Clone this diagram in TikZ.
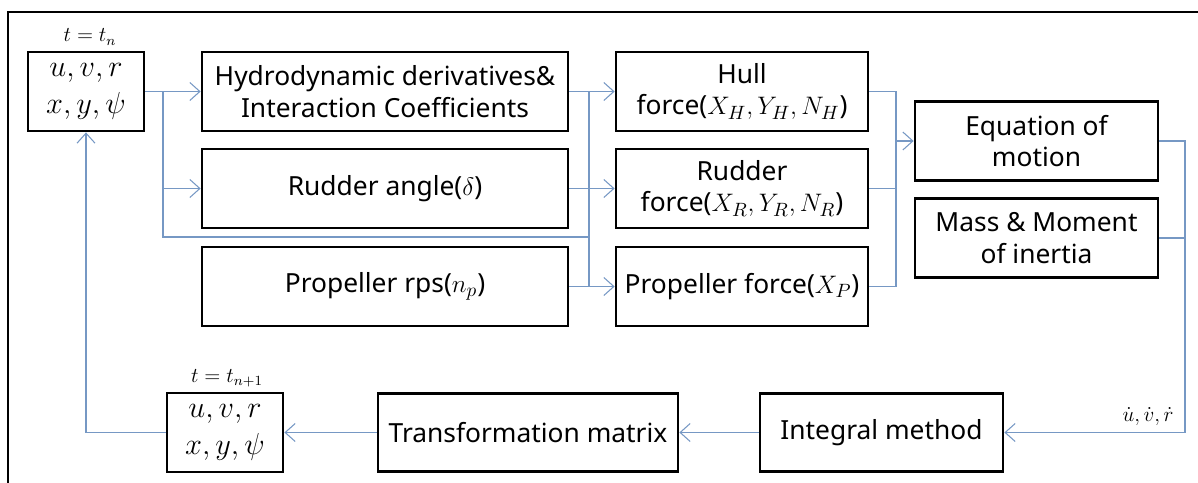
\documentclass[tikz,border=0pt]{standalone}
\usepackage[no-math]{fontspec}
\setmainfont{Noto Sans}
\usetikzlibrary{arrows.meta, positioning}
\definecolor{linkblue}{RGB}{118,152,196}
\tikzset{
    block/.style={rectangle, draw, line width=1.6pt, text centered, align=center, inner sep=0pt, font=\fontsize{15}{18}\selectfont},
    state/.style={block, minimum width=2.32cm, minimum height=1.58cm, font=\fontsize{18}{21}\selectfont},
    wide/.style={block, minimum width=7.32cm, minimum height=1.58cm},
    force/.style={block, minimum width=5.04cm, minimum height=1.58cm},
    solver/.style={block, minimum width=4.86cm, minimum height=1.57cm},
    stamp/.style={font=\fontsize{12}{14}\selectfont},
    link/.style={draw=linkblue, line width=0.6pt},
    flow/.style={link, -{Straight Barb[length=2mm, width=3.6mm]}}
}
\begin{document}
\begin{tikzpicture}[x=0.02cm, y=-0.02cm]
    \useasboundingbox (0,0) rectangle (1198,483);
    % Outer frame (cut by the page edge)
    \draw[line width=1pt] (8,483) -- (8,12) -- (1198,12);

    % State at t_n
    \node[state] (s1) at (86,91.5) {$u,v,r$\\$x,y,\psi$};
    \node[stamp] (tn) at (90,37) {$t=t_n$};

    % Inputs
    \node[wide] (hydro) at (385,91.5) {Hydrodynamic derivatives\&\\Interaction Coefficients};
    \node[wide] (rangle) at (385,188.5) {Rudder angle($\delta$)};
    \node[wide] (prps) at (385,286.5) {Propeller rps($n_p$)};

    % Forces
    \node[force] (hull) at (742,91.5) {Hull\\force($X_H,Y_H,N_H$)};
    \node[force] (rforce) at (742,188.5) {Rudder\\force($X_R,Y_R,N_R$)};
    \node[force] (pforce) at (742,286.5) {Propeller force($X_P$)};

    % Motion
    \node[solver] (eq) at (1036.5,141) {Equation of\\motion};
    \node[solver] (mass) at (1036.5,238) {Mass \& Moment\\of inertia};

    % Bottom row
    \node[solver] (integ) at (881.5,432.5) {Integral method};
    \node[block, minimum width=6cm, minimum height=1.57cm] (trans) at (528,432.5) {Transformation matrix};
    \node[state] (s2) at (225,432.5) {$u,v,r$\\$x,y,\psi$};
    \node[stamp] (tn1) at (227,378) {$t=t_{n+1}$};

    % Bus points
    \coordinate (lb) at (163,237);
    \coordinate (mb) at (589,237);
    \coordinate (rb) at (896,141);
    \coordinate (fb) at (1185,432.5);

    % State to inputs
    \draw[flow] (s1.east) -- (hydro.west);
    \draw[link] (lb |- s1.east) -- (lb) -- (mb);
    \draw[flow] (lb |- rangle.west) -- (rangle.west);

    % Inputs to forces
    \draw[flow] (hydro.east) -- (hull.west);
    \draw[link] (mb |- hydro.east) -- (mb |- pforce.west);
    \draw[flow] (rangle.east) -- (rforce.west);
    \draw[flow] (prps.east) -- (pforce.west);

    % Forces to equation of motion
    \draw[link] (hull.east) -| (rb |- pforce.east) -- (pforce.east);
    \draw[link] (rforce.east) -- (rb |- rforce.east);
    \draw[flow] (rb |- eq.west) -- (eq.west);

    % Feedback loop
    \draw[flow] (eq.east) -| (fb) -- (integ.east);
    \draw[link] (mass.east) -- (fb |- mass.east);
    \node[stamp] (acc) at (1148,417) {$\dot u,\dot v,\dot r$};
    \draw[flow] (integ.west) -- (trans.east);
    \draw[flow] (trans.west) -- (s2.east);
    \draw[flow] (s2.west) -| (s1.south);
\end{tikzpicture}
\end{document}
